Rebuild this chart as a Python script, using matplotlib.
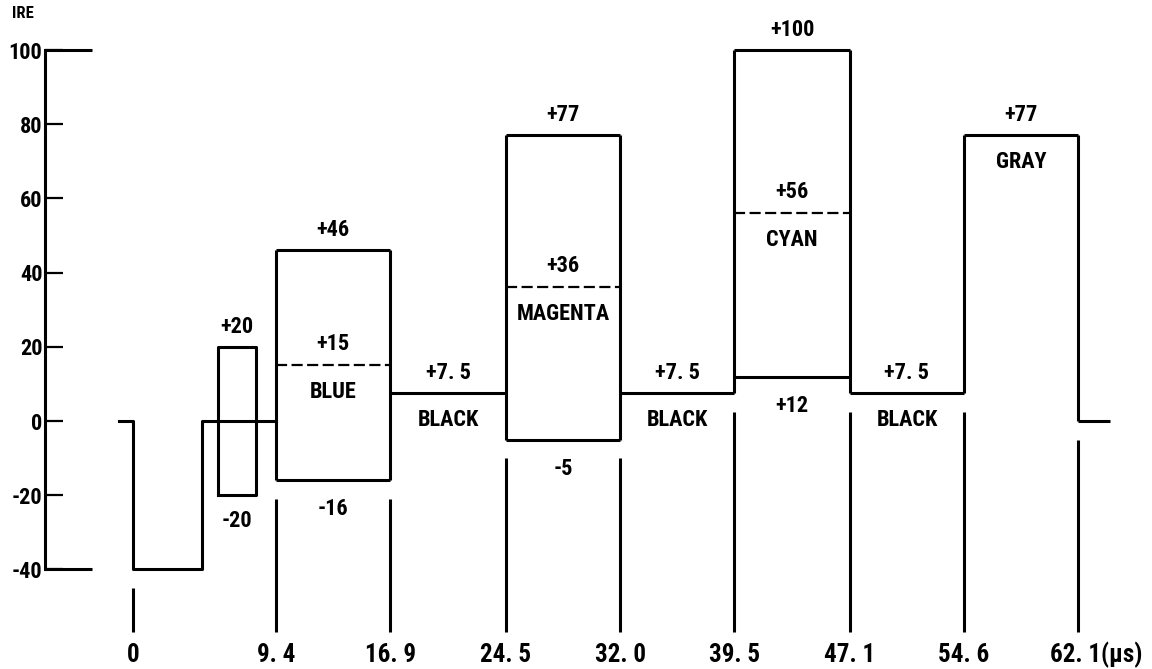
import matplotlib.pyplot as plt
from matplotlib import font_manager

# pick a narrow bold face if one is installed
narrow = ['Roboto Condensed', 'Liberation Sans Narrow', 'DejaVu Sans Condensed',
          'Open Sans Condensed', 'Noto Sans Display Condensed', 'Arial Narrow']
installed = {f.name for f in font_manager.fontManager.ttflist}
families = [f for f in narrow if f in installed] + ['DejaVu Sans']
plt.rcParams['font.family'] = families
plt.rcParams['font.weight'] = 'bold'
plt.rcParams['font.stretch'] = 'condensed'
plt.rcParams['axes.unicode_minus'] = False

# --- Data: colour bar signal (IRE levels, times in microseconds) ---
edges = [0, 9.4, 16.9, 24.5, 32.0, 39.5, 47.1, 54.6, 62.1]
tick_labels = ['0', '9. 4', '16. 9', '24. 5', '32. 0', '39. 5', '47. 1', '54. 6', '62. 1(μs)']

names = ['BLUE', 'BLACK', 'MAGENTA', 'BLACK', 'CYAN', 'BLACK', 'GRAY']
upper = [46, 7.5, 77, 7.5, 100, 7.5, 77]
lower = [-16, 7.5, -5, 7.5, 12, 7.5, 77]
luma = [15, 7.5, 36, 7.5, 56, 7.5, 77]

blank_level = 0
sync_level = -40
porch_start = -0.9
sync_end = 4.5
burst_start, burst_end = 5.6, 8.1
burst_amp = 20
tail_end = 64.2

yticks = [-40, -20, 0, 20, 40, 60, 80, 100]

# sizes depend on whether a condensed face was found
condensed = len(families) > 1
fs_label = 16 if condensed else 13
fs_x = 18 if condensed else 14
fs_y = 16 if condensed else 13


def fmt(v):
    s = f'{v:+g}'
    if v < 0:
        s = s.replace('+', '')
    return s.replace('.', '. ')


fig = plt.figure(figsize=(11.52, 6.69), dpi=100)
ax = fig.add_axes([0, 0, 1, 1])
ax.set_xlim(-8.74, 66.95)
ax.set_ylim(-66.85, 113.5)

lw = 2.2
kw = dict(color='black', lw=lw)

# y axis drawn as the left spine
axis_x = -5.78
for side in ['top', 'right', 'bottom']:
    ax.spines[side].set_visible(False)
ax.spines['left'].set_position(('data', axis_x))
ax.spines['left'].set_bounds(yticks[0], yticks[-1])
ax.spines['left'].set_linewidth(lw)
ax.set_xticks([])
ax.set_yticks(yticks)
ax.tick_params(axis='y', direction='in', length=13, width=1.6, pad=2, labelsize=fs_y)
ax.hlines([yticks[0], yticks[-1]], axis_x, -2.69, **kw)
fig.text(0.01, 1 - 13 / 669, 'IRE', fontsize=12, va='center', ha='left')

# sync pulse, blanking and burst
ax.plot([porch_start, 0, 0, sync_end, sync_end, edges[1]],
        [blank_level, blank_level, sync_level, sync_level, blank_level, blank_level], **kw)
ax.plot([burst_start, burst_start, burst_end, burst_end, burst_start],
        [-burst_amp, burst_amp, burst_amp, -burst_amp, -burst_amp], **kw)
ax.hlines(blank_level, edges[-1], tail_end, **kw)


def label(x, y, s, dy):
    ax.annotate(s, (x, y), xytext=(0, dy), textcoords='offset pixels',
                ha='center', va='center', fontsize=fs_label)


label((burst_start + burst_end) / 2, burst_amp, fmt(burst_amp), 20)
label((burst_start + burst_end) / 2, -burst_amp, fmt(-burst_amp), -26)

# bars
bar_edges = edges[1:]
for i, name in enumerate(names):
    x0, x1 = bar_edges[i], bar_edges[i + 1]
    xm = (x0 + x1) / 2
    ax.hlines(upper[i], x0, x1, **kw)
    label(xm, upper[i], fmt(upper[i]), 20)
    if lower[i] != upper[i]:
        ax.hlines(lower[i], x0, x1, **kw)
        ax.hlines(luma[i], x0, x1, color='black', lw=1.6, linestyles=(0, (5, 2)))
        label(xm, luma[i], fmt(luma[i]), 21)
        label(xm, lower[i], fmt(lower[i]), -29)
    label(xm, luma[i], name, -27)

# vertical transitions between bars
for j, x in enumerate(bar_edges):
    left = [blank_level] if j == 0 else [upper[j - 1], lower[j - 1]]
    right = [blank_level] if j == len(names) else [upper[j], lower[j]]
    levels = left + right
    ax.vlines(x, min(levels), max(levels), **kw)

# timing markers under the waveform
for j, x in enumerate(edges):
    if j == 0:
        low = sync_level
    else:
        levels = [blank_level] if j == 1 else [upper[j - 2], lower[j - 2]]
        levels += [blank_level] if j == len(edges) - 1 else [upper[j - 1], lower[j - 1]]
        low = min(levels)
    ax.vlines(x, -57, low - 5, **kw)
    if j == len(edges) - 1:
        ax.annotate(tick_labels[j], (x, -63), xytext=(-28, 0), textcoords='offset pixels',
                    ha='left', va='center', fontsize=fs_x)
    else:
        ax.text(x, -63, tick_labels[j], ha='center', va='center', fontsize=fs_x)

plt.savefig('out.png', dpi=100, facecolor='white')
